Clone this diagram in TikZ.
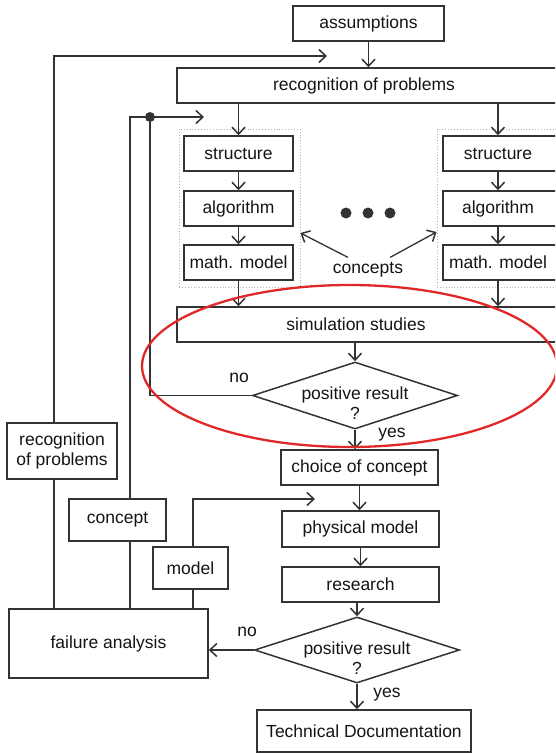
\documentclass[tikz,border=0pt]{standalone}
\usepackage{fontspec}
\setmainfont{Liberation Sans}
\usetikzlibrary{arrows.meta,shapes.geometric,calc}
\definecolor{lncol}{HTML}{333333}
\definecolor{txtcol}{HTML}{141414}
\definecolor{redc}{HTML}{E02828}
\begin{document}
\begin{tikzpicture}[x=1pt,y=-1pt,
  every node/.style={font=\fontsize{17.5}{20}\selectfont, text=txtcol},
  box/.style={draw=lncol, line width=1.5pt, inner sep=0pt, align=center},
  lbl/.style={inner sep=0pt, align=center},
  grp/.style={draw=gray!60, dotted, line width=0.9pt, inner sep=0pt},
  dia/.style={draw=lncol, line width=1.5pt, diamond, inner sep=0pt},
  conn/.style={draw=lncol, line width=1.3pt},
  arr/.style={conn, -{Straight Barb[length=7pt,width=13pt,line width=1.5pt]}},
  blob/.style={circle, fill=lncol, inner sep=0pt, minimum size=11pt}]
\useasboundingbox (0,0) rectangle (555,754);
\clip (0,0) rectangle (555,754);

% top
\node[box, minimum width=151pt, minimum height=35pt] (ass) at (368.5,23.5) {assumptions};
\node[box, minimum width=388pt, minimum height=35pt] (rec) at (371,85.5) {};
\node[lbl] (rect) at (364,85.5) {recognition of problems};

% concept groups
\node[grp, minimum width=121pt, minimum height=158pt] (gl) at (239.5,208) {};
\node[grp, minimum width=130pt, minimum height=158pt] (gr) at (502,208) {};

\node[box, minimum width=109pt, minimum height=35pt] (s1) at (238.5,153.5) {structure};
\node[box, minimum width=109pt, minimum height=35pt] (a1) at (238.5,208.5) {algorithm};
\node[box, minimum width=109pt, minimum height=35pt] (m1) at (238.5,262.5) {math. model};

\node[box, minimum width=124pt, minimum height=35pt] (s2) at (505,153.5) {};
\node[box, minimum width=124pt, minimum height=35pt] (a2) at (505,208.5) {};
\node[box, minimum width=124pt, minimum height=35pt] (m2) at (505,262.5) {};
\node[lbl] (s2t) at (498,153.5) {structure};
\node[lbl] (a2t) at (498,208.5) {algorithm};
\node[lbl] (m2t) at (498,262.5) {math. model};

\node[blob] (d1a) at (346,213) {};
\node[blob] (d1b) at (368,213) {};
\node[blob] (d1c) at (390,213) {};
\node[lbl] (cpt) at (368,270) {concepts};

% simulation
\node[box, minimum width=388pt, minimum height=35pt] (sim) at (371,324.5) {};
\node[lbl] (simt) at (356,324.5) {simulation studies};

\node[dia, minimum width=205pt, minimum height=67pt] (dA) at (355,395.5) {};
\node[lbl] (dAt) at (355,403) {positive result\\?};
\node[lbl] (noA) at (239,378) {no};
\node[lbl] (yesA) at (392,435) {yes};

% lower chain
\node[box, minimum width=157pt, minimum height=35pt] (cho) at (359.5,467.5) {choice of concept};
\node[box, minimum width=157pt, minimum height=36pt] (phy) at (360.5,529) {physical model};
\node[box, minimum width=157pt, minimum height=35pt] (res) at (360.5,584.5) {research};
\node[dia, minimum width=205pt, minimum height=66pt] (dB) at (357,650) {};
\node[lbl] (dBt) at (357,658) {positive result\\?};
\node[lbl] (noB) at (247,632) {no};
\node[lbl] (yesB) at (387,695) {yes};
\node[box, minimum width=214pt, minimum height=42pt] (tech) at (364,731) {Technical Documentation};

% left side
\node[box, minimum width=199pt, minimum height=69pt] (fail) at (108.5,643.5) {failure analysis};
\node[box, minimum width=110pt, minimum height=56pt] (rpl) at (62,451) {recognition\\of problems};
\node[box, minimum width=97pt, minimum height=42pt] (conc) at (117.5,520) {concept};
\node[box, minimum width=75pt, minimum height=42pt] (mdl) at (190.5,568) {model};

% feedback coordinates
\coordinate (c1) at (54,56);
\coordinate (t1) at (327,56);
\coordinate (c2) at (130,117);
\node[blob, minimum size=10pt] (jn) at (150,117) {};
\coordinate (t2) at (204,117);
\coordinate (c3) at (193,499);
\coordinate (t3) at (315,499);

% main connectors
\draw[arr] (ass.south) -- (ass.south |- rec.north);
\draw[arr] (s1.north |- rec.south) -- (s1.north);
\draw[arr] (s1.south) -- (a1.north);
\draw[arr] (a1.south) -- (m1.north);
\draw[arr] (m1.south) -- (m1.south |- sim.north);

\draw[arr] (s2t |- rec.south) -- (s2t |- s2.north);
\draw[arr] (s2t |- s2.south) -- (s2t |- a2.north);
\draw[arr] (s2t |- a2.south) -- (s2t |- m2.north);
\draw[arr] (s2t |- m2.south) -- (s2t |- sim.north);

\draw[arr] ($(cpt.north west)+(15,-5)$) -- ($(gl.east)+(0,25)$);
\draw[arr] ($(cpt.north east)+(-13,-5)$) -- ($(gr.west)+(0,24)$);

\draw[arr] (dA.north |- sim.south) -- (dA.north);
\draw[arr] (dA.south) -- (dA.south |- cho.north);
\draw[arr] (cho.south) -- (cho.south |- phy.north);
\draw[arr] (phy.south) -- (res.north);
\draw[arr] (dB.north |- res.south) -- (dB.north);
\draw[arr] (dB.south) -- (dB.south |- tech.north);
\draw[arr] (dB.west) -- (dB.west -| fail.east);

% feedback loops
\draw[conn] (fail.north -| c1) -- (rpl.south -| c1);
\draw[arr] (rpl.north -| c1) -- (c1) -- (t1);
\draw[conn] (fail.north -| c2) -- (conc.south -| c2);
\draw[arr] (conc.north -| c2) -- (c2) -- (t2);
\draw[conn] (dA.west) -| (jn);
\draw[conn] (fail.north -| c3) -- (mdl.south -| c3);
\draw[arr] (mdl.north -| c3) -- (c3) -- (t3);

% red highlight
\draw[redc, line width=2.3pt] (349.5,366) ellipse [x radius=207.5pt, y radius=81pt];
\end{tikzpicture}
\end{document}
